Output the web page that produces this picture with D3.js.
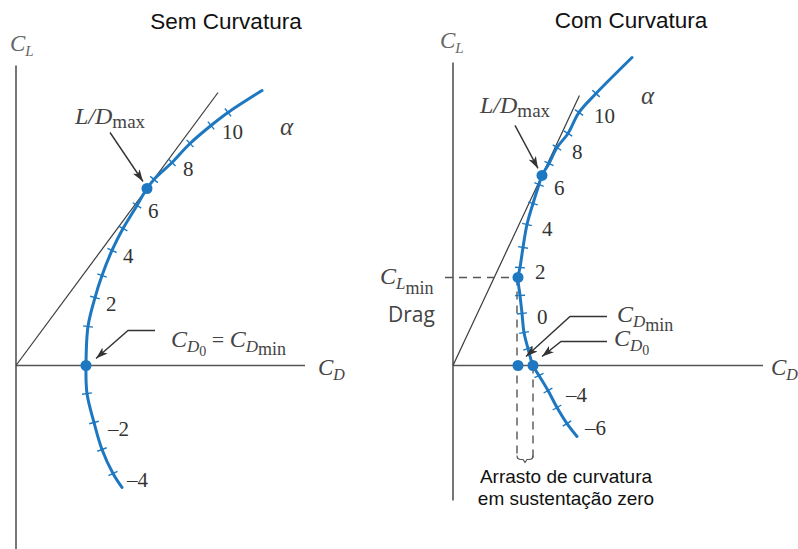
<!DOCTYPE html>
<html>
<head>
<meta charset="utf-8">
<script src="https://cdn.jsdelivr.net/npm/d3@7"></script>
<style>
  html, body { margin: 0; padding: 0; background: #fff; }
  svg { display: block; }
</style>
</head>
<body>
<svg id="chart" width="798" height="549"></svg>
<script>
// ---- Drag polar, symmetric airfoil ("Sem Curvatura") ----
const alphaSem = [-4, -3, -2, -1, 0, 1, 2, 3, 4, 5, 6, 7, 8, 9, 10, 11];
const cdSem = [0.0485, 0.0430, 0.0390, 0.0355, 0.0350, 0.0360, 0.0395, 0.0430, 0.0480, 0.0535, 0.0605, 0.0690, 0.0780, 0.0870, 0.0975, 0.1060];
const clSem = [-0.720, -0.560, -0.380, -0.187, 0.000, 0.260, 0.453, 0.600, 0.767, 0.913, 1.067, 1.240, 1.353, 1.480, 1.600, 1.687];
const cdEndSem = [0.0530, 0.1230];
const clEndSem = [-0.813, 1.833];
const labelAlphaSem = [-4, -2, 2, 4, 6, 8, 10];
const ldMaxSem = [0.0655, 1.180];     // [CD, CL]
const cd0Sem = [0.0350, 0.000];

// ---- Drag polar, cambered airfoil ("Com Curvatura") ----
const alphaCom = [-6, -5, -4, -3, -2, -1, 0, 1, 2, 3, 4, 5, 6, 7, 8, 9, 10, 11];
const cdCom = [0.0570, 0.0520, 0.0475, 0.0430, 0.0375, 0.0355, 0.0345, 0.0335, 0.0335, 0.0350, 0.0370, 0.0400, 0.0430, 0.0480, 0.0520, 0.0575, 0.0630, 0.0715];
const clCom = [-0.387, -0.280, -0.167, -0.067, 0.113, 0.220, 0.347, 0.467, 0.653, 0.787, 0.940, 1.080, 1.207, 1.347, 1.453, 1.547, 1.687, 1.813];
const cdEndCom = [0.0620, 0.0895];
const clEndCom = [-0.473, 2.053];
const labelAlphaCom = [-6, -4, 0, 2, 4, 6, 8, 10];
const ldMaxCom = [0.0445, 1.267];
const clMinCom = [0.0325, 0.587];    // point of minimum drag
const cd0Com = [0.0400, 0.000];

const BLUE = "#1d78c1";
const AXIS = "#555";
const INK = "#444";
const SERIF = "'Liberation Serif', 'DejaVu Serif', serif";
const SANS = "'Liberation Sans', Arial, sans-serif";

const svg = d3.select("#chart");
const defs = svg.append("defs");
defs.append("marker")
  .attr("id", "arrow").attr("viewBox", "0 0 12 8")
  .attr("refX", 12).attr("refY", 4)
  .attr("markerWidth", 12).attr("markerHeight", 8)
  .attr("markerUnits", "userSpaceOnUse")
  .attr("orient", "auto")
  .append("path").attr("d", "M0,0 L12,4 L0,8 L3,4 Z").attr("fill", "#333");

// Text built from pieces: each piece has its own size, style and vertical shift.
function mathText(g, x, y, parts, fill) {
  const t = g.append("text").attr("x", x).attr("y", y)
    .attr("font-family", SERIF).attr("fill", fill || INK);
  let shift = 0;
  parts.forEach(p => {
    const s = t.append("tspan").text(p.t)
      .attr("font-size", p.size)
      .attr("font-style", p.italic ? "italic" : "normal")
      .attr("dy", (p.shift || 0) - shift);
    if (p.dx) s.attr("dx", p.dx);
    shift = p.shift || 0;
  });
  return t;
}

function drawPanel(cfg) {
  const g = svg.append("g");
  const x = cfg.x, y = cfg.y;

  // axes
  g.append("line")
    .attr("x1", x(0)).attr("x2", x(0))
    .attr("y1", y(cfg.clTop)).attr("y2", y(cfg.clBottom))
    .attr("stroke", AXIS).attr("stroke-width", 1.6);
  g.append("line")
    .attr("x1", x(0)).attr("x2", x(cfg.cdRight))
    .attr("y1", y(0)).attr("y2", y(0))
    .attr("stroke", AXIS).attr("stroke-width", 1.6);

  // tangent from the origin through the L/D max point
  const ld = cfg.ldMax;
  const k = cfg.tangentTop / ld[1];
  g.append("line")
    .attr("x1", x(0)).attr("y1", y(0))
    .attr("x2", x(ld[0] * k)).attr("y2", y(ld[1] * k))
    .attr("stroke", "#3a3a3a").attr("stroke-width", 1.2);

  // polar curve
  const ticks = cfg.alpha.map((a, i) => ({a, cd: cfg.cd[i], cl: cfg.cl[i]}));
  const pts = ticks.map(d => [d.cd, d.cl])
    .concat(cfg.cdEnd.map((c, i) => [c, cfg.clEnd[i]]))
    .concat(cfg.onCurve)
    .sort((p, q) => p[1] - q[1]);
  const line = d3.line().x(d => x(d[0])).y(d => y(d[1])).curve(d3.curveCatmullRom.alpha(0.5));
  cfg.under && cfg.under(g);
  g.append("path").attr("d", line(pts))
    .attr("fill", "none").attr("stroke", BLUE).attr("stroke-width", 3)
    .attr("stroke-linecap", "round");

  // alpha tick marks, across the curve
  const px = ticks.map(d => [x(d.cd), y(d.cl)]);
  ticks.forEach((d, i) => {
    const p0 = px[Math.max(0, i - 1)], p1 = px[Math.min(px.length - 1, i + 1)];
    let tx = p1[0] - p0[0], ty = p1[1] - p0[1];
    const len = Math.hypot(tx, ty) || 1;
    tx /= len; ty /= len;
    const nx = -ty, ny = tx, h = 5;
    g.append("line")
      .attr("x1", px[i][0] - nx * h).attr("y1", px[i][1] - ny * h)
      .attr("x2", px[i][0] + nx * h).attr("y2", px[i][1] + ny * h)
      .attr("stroke", BLUE).attr("stroke-width", 1.4);
  });

  // alpha labels
  ticks.filter(d => cfg.labels.includes(d.a)).forEach(d => {
    g.append("text")
      .attr("x", x(d.cd) + cfg.labelDx + (d.a < 0 ? 3 : 0)).attr("y", y(d.cl) + cfg.labelDy)
      .attr("font-family", SERIF).attr("font-size", 21).attr("fill", "#333")
      .text(d.a < 0 ? "\u2013" + Math.abs(d.a) : String(d.a));
  });

  // marked points
  cfg.dots.forEach(p => {
    g.append("circle").attr("cx", x(p[0])).attr("cy", y(p[1])).attr("r", 5.5).attr("fill", BLUE);
  });
  return g;
}

// ---------------- left panel ----------------
const xSem = d3.scaleLinear().domain([0, 0.1445]).range([16, 305]);
const ySem = d3.scaleLinear().domain([0, 2]).range([365.5, 65.5]);
const gSem = drawPanel({
  x: xSem, y: ySem, clTop: 2.0, clBottom: -1.24, cdRight: 0.1445,
  alpha: alphaSem, cd: cdSem, cl: clSem, cdEnd: cdEndSem, clEnd: clEndSem,
  onCurve: [ldMaxSem, cd0Sem], labels: labelAlphaSem,
  labelDx: 11, labelDy: 13, ldMax: ldMaxSem, tangentTop: 1.82,
  dots: [ldMaxSem, cd0Sem]
});

svg.append("text").attr("x", 226).attr("y", 29).attr("text-anchor", "middle")
  .attr("font-family", SANS).attr("font-size", 22.5).attr("fill", "#111").text("Sem Curvatura");
mathText(gSem, 10, 51, [{t: "C", italic: true, size: 23}, {t: "L", italic: true, size: 15, shift: 5}], "#666");
mathText(gSem, 318, 375, [{t: "C", italic: true, size: 23}, {t: "D", italic: true, size: 16, shift: 5}], "#444");
gSem.append("text").attr("x", 280).attr("y", 135).attr("font-family", SERIF)
  .attr("font-style", "italic").attr("font-size", 25).attr("fill", INK).text("\u03b1");
mathText(gSem, 75, 124, [{t: "L/D", italic: true, size: 24}, {t: "max", size: 19, shift: 4}]);
mathText(gSem, 171, 347, [
  {t: "C", italic: true, size: 24}, {t: "D", italic: true, size: 17, shift: 5},
  {t: "0", size: 14, shift: 9}, {t: " = ", size: 22, shift: 0},
  {t: "C", italic: true, size: 24}, {t: "D", italic: true, size: 17, shift: 5},
  {t: "min", size: 18, shift: 8}
]);
// leader arrows
gSem.append("line")
  .attr("x1", xSem(ldMaxSem[0]) - 37).attr("y1", ySem(ldMaxSem[1]) - 56)
  .attr("x2", xSem(ldMaxSem[0]) - 4).attr("y2", ySem(ldMaxSem[1]) - 7)
  .attr("stroke", "#333").attr("stroke-width", 1.4).attr("marker-end", "url(#arrow)");
gSem.append("polyline")
  .attr("points", [[xSem(cd0Sem[0]) + 69, ySem(0) - 35], [xSem(cd0Sem[0]) + 42, ySem(0) - 35], [xSem(cd0Sem[0]) + 10, ySem(0) - 7]].join(" "))
  .attr("fill", "none").attr("stroke", "#333").attr("stroke-width", 1.4).attr("marker-end", "url(#arrow)");

// ---------------- right panel ----------------
const xCom = d3.scaleLinear().domain([0, 0.1585]).range([453, 770]);
const yCom = d3.scaleLinear().domain([0, 2]).range([365.5, 65.5]);
const dashBottom = -0.62;
const gCom = drawPanel({
  x: xCom, y: yCom, clTop: 2.02, clBottom: -0.90, cdRight: 0.155,
  alpha: alphaCom, cd: cdCom, cl: clCom, cdEnd: cdEndCom, clEnd: clEndCom,
  onCurve: [ldMaxCom, clMinCom, cd0Com], labels: labelAlphaCom,
  labelDx: 15, labelDy: 11, ldMax: ldMaxCom, tangentTop: 1.80,
  dots: [ldMaxCom, clMinCom, cd0Com, [clMinCom[0], 0]],
  under: g => {
    const dash = {stroke: AXIS, "stroke-width": 1.4, "stroke-dasharray": "8,6"};
    const addDash = (x1, y1, x2, y2) => {
      const l = g.append("line").attr("x1", x1).attr("y1", y1).attr("x2", x2).attr("y2", y2);
      Object.entries(dash).forEach(([k, v]) => l.attr(k, v));
    };
    addDash(xCom(0) - 8, yCom(clMinCom[1]), xCom(clMinCom[0]), yCom(clMinCom[1]));
    addDash(xCom(clMinCom[0]) - 1, yCom(clMinCom[1]), xCom(clMinCom[0]) - 1, yCom(dashBottom));
    addDash(xCom(cd0Com[0]), yCom(0), xCom(cd0Com[0]), yCom(dashBottom));
    // brace joining the two drag values
    const bx1 = xCom(clMinCom[0]) - 1, bx2 = xCom(cd0Com[0]), by = yCom(dashBottom);
    const bm = (bx1 + bx2) / 2;
    g.append("path")
      .attr("d", `M${bx1},${by - 3} Q${bx1},${by + 1} ${bx1 + 4},${by + 1} L${bm - 2},${by + 1} L${bm},${by + 4} L${bm + 2},${by + 1} L${bx2 - 4},${by + 1} Q${bx2},${by + 1} ${bx2},${by - 3}`)
      .attr("fill", "none").attr("stroke", AXIS).attr("stroke-width", 1.2);
  }
});

svg.append("text").attr("x", 631).attr("y", 28).attr("text-anchor", "middle")
  .attr("font-family", SANS).attr("font-size", 22.5).attr("fill", "#111").text("Com Curvatura");
mathText(gCom, 440, 48, [{t: "C", italic: true, size: 23}, {t: "L", italic: true, size: 15, shift: 5}], "#666");
mathText(gCom, 771, 375, [{t: "C", italic: true, size: 23}, {t: "D", italic: true, size: 16, shift: 5}], "#444");
gCom.append("text").attr("x", 641).attr("y", 104).attr("font-family", SERIF)
  .attr("font-style", "italic").attr("font-size", 25).attr("fill", INK).text("\u03b1");
mathText(gCom, 480, 113, [{t: "L/D", italic: true, size: 24}, {t: "max", size: 19, shift: 4}]);
mathText(gCom, 380, 284, [{t: "C", italic: true, size: 24}, {t: "L", italic: true, size: 17, shift: 5}, {t: "min", size: 18, shift: 10}]);
gCom.append("text").attr("x", 388).attr("y", 322).attr("font-family", "'Open Sans', sans-serif")
  .attr("font-size", 21).attr("fill", INK).text("Drag");
mathText(gCom, 617, 322, [{t: "C", italic: true, size: 24}, {t: "D", italic: true, size: 17, shift: 5}, {t: "min", size: 18, shift: 9}]);
mathText(gCom, 614, 346, [{t: "C", italic: true, size: 24}, {t: "D", italic: true, size: 17, shift: 5}, {t: "0", size: 14, shift: 9}]);

gCom.append("line")
  .attr("x1", xCom(ldMaxCom[0]) - 27).attr("y1", yCom(ldMaxCom[1]) - 50)
  .attr("x2", xCom(ldMaxCom[0]) - 4).attr("y2", yCom(ldMaxCom[1]) - 7)
  .attr("stroke", "#333").attr("stroke-width", 1.4).attr("marker-end", "url(#arrow)");
gCom.append("polyline")
  .attr("points", [[607, yCom(0) - 49], [570, yCom(0) - 49], [xCom(clMinCom[0]) + 8, yCom(0) - 9]].join(" "))
  .attr("fill", "none").attr("stroke", "#333").attr("stroke-width", 1.4).attr("marker-end", "url(#arrow)");
gCom.append("polyline")
  .attr("points", [[607, yCom(0) - 24], [561, yCom(0) - 24], [xCom(cd0Com[0]) + 9, yCom(0) - 9]].join(" "))
  .attr("fill", "none").attr("stroke", "#333").attr("stroke-width", 1.4).attr("marker-end", "url(#arrow)");

svg.append("text").attr("x", 566).attr("y", 483).attr("text-anchor", "middle")
  .attr("font-family", SANS).attr("font-size", 19).attr("fill", "#111").text("Arrasto de curvatura");
svg.append("text").attr("x", 566).attr("y", 505).attr("text-anchor", "middle")
  .attr("font-family", SANS).attr("font-size", 19).attr("fill", "#111").text("em sustentação zero");
</script>
</body>
</html>
